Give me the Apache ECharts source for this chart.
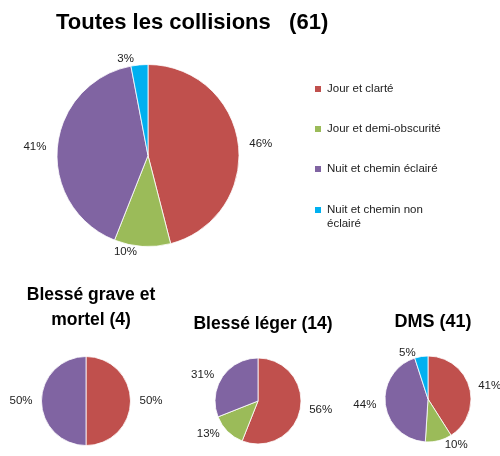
<!DOCTYPE html>
<html><head><meta charset="utf-8">
<script src="https://cdn.jsdelivr.net/npm/echarts@6/dist/echarts.min.js"></script>
<style>html,body{margin:0;padding:0;background:#fff}#c{width:500px;height:456px}</style>
</head><body><div id="c"></div>
<script>
const categories = ['Jour et clarté', 'Jour et demi-obscurité', 'Nuit et chemin éclairé', 'Nuit et chemin non éclairé'];
const colors = ['#C0504D', '#9BBB59', '#8064A2', '#00B0F0'];
const toutes = [46, 10, 41, 3];
const grave = [50, 0, 50, 0];
const leger = [56, 13, 31, 0];
const dms = [41, 10, 44, 5];
const titles = ['Toutes les collisions   (61)', 'Blessé grave et\nmortel (4)', 'Blessé léger (14)', 'DMS (41)'];

const FONT = 'Liberation Sans';
function mk(vals, center, radius, len) {
  return {
    type: 'pie', center: center, radius: radius, startAngle: 90, clockwise: true,
    avoidLabelOverlap: false,
    itemStyle: {borderColor: '#fff', borderWidth: 0.8},
    label: {show: true, position: 'outside', formatter: p => p.value + '%', color: '#222', fontSize: 11.5, fontFamily: FONT},
    labelLine: {show: false, length: len, length2: 0},
    emphasis: {disabled: true},
    data: categories.map((n, i) => ({name: n, value: vals[i], itemStyle: {color: colors[i]}})).filter(d => d.value > 0)
  };
}
const chart = echarts.init(document.getElementById('c'), null, {renderer: 'canvas'});
chart.setOption({
  animation: false,
  color: colors,
  title: [
    {text: titles[0], left: 51, top: 7, textStyle: {fontFamily: FONT, fontWeight: 'bold', fontSize: 22, color: '#000'}},
    {text: titles[1], left: 86, top: 278, textAlign: 'center', textStyle: {fontFamily: FONT, fontWeight: 'bold', fontSize: 17.5, lineHeight: 25, color: '#000'}},
    {text: titles[2], left: 258, top: 310, textAlign: 'center', textStyle: {fontFamily: FONT, fontWeight: 'bold', fontSize: 17.5, color: '#000'}},
    {text: titles[3], left: 428, top: 308, textAlign: 'center', textStyle: {fontFamily: FONT, fontWeight: 'bold', fontSize: 18, color: '#000'}}
  ],
  legend: [
    {orient: 'vertical', left: 313, top: 82, padding: 0, itemWidth: 8, itemHeight: 8, itemGap: 26, icon: 'rect',
     data: categories.slice(0, 3), selectedMode: false,
     textStyle: {fontFamily: FONT, fontSize: 11.5, color: '#222', lineHeight: 14}},
    {orient: 'vertical', left: 313, top: 189, padding: 0, itemWidth: 8, itemHeight: 8, icon: 'rect',
     data: categories.slice(3), selectedMode: false,
     formatter: n => '\n' + n.replace('non ', 'non\n'),
     textStyle: {fontFamily: FONT, fontSize: 11.5, color: '#222', lineHeight: 14}}
  ],
  series: [
    mk(toutes, [148, 155.5], 91, 6),
    mk(grave, [86, 401], 44.5, 4),
    mk(leger, [258, 401], 43, 4),
    mk(dms, [428, 399], 43, 4)
  ]
});
</script></body></html>
